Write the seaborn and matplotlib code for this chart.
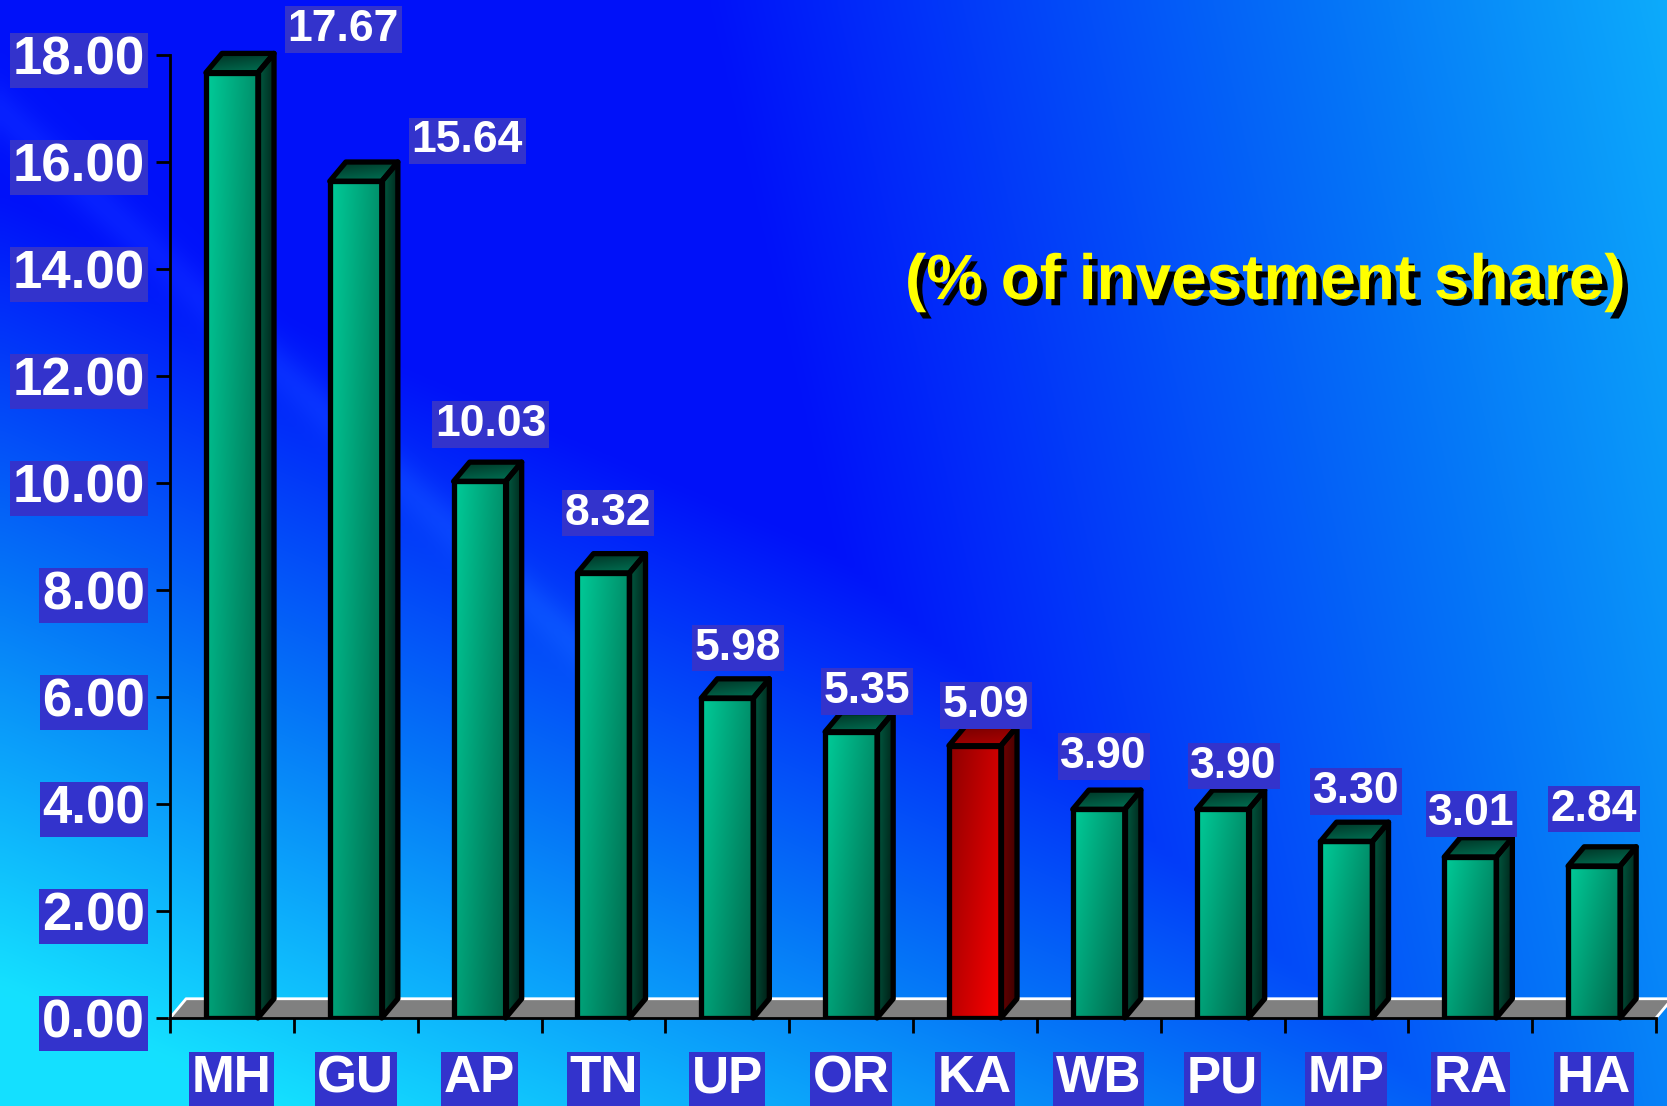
import numpy as np
import matplotlib
matplotlib.use('Agg')
import matplotlib.pyplot as plt
import matplotlib.patheffects as pe
from matplotlib.patches import Polygon
import seaborn as sns

# Data
states = ['MH', 'GU', 'AP', 'TN', 'UP', 'OR', 'KA', 'WB', 'PU', 'MP', 'RA', 'HA']
shares = [17.67, 15.64, 10.03, 8.32, 5.98, 5.35, 5.09, 3.90, 3.90, 3.30, 3.01, 2.84]
highlight = 'KA'
yticks = np.arange(0, 20, 2)
title = '(% of investment share)'

# where the value boxes sit relative to the bar tops (category shift, points up)
label_dx = [0.90, 0.90, 0.09, 0.04, 0.09, 0.13, 0.09, 0.04, 0.09, 0.08, 0.01, 0.0]
label_dy = [31, 29, 41, 43, 36, 29, 29, 38, 31, 36, 31, 41]

# fake 3d depth (data units)
DX, DY = 0.13, 0.36
BOX = '#3333CC'
LW = 3.8

sns.set_style('ticks')
plt.rcParams['font.family'] = ['Liberation Sans', 'DejaVu Sans']
plt.rcParams['font.weight'] = 'bold'

fig = plt.figure(figsize=(16.67, 11.06), dpi=100)

# Background gradient
h, w = 220, 330
vv, uu = np.mgrid[0:1:h * 1j, 0:1:w * 1j]
a = (vv - 0.5) * 1.4 + (0.5 - uu) * 0.9
b = (uu - 0.58) * 1.3 + 0.2 * (1 - vv)
L = np.clip(np.maximum(a, b), 0, 1)
deep = np.array([0.0, 0.07, 0.98])
mid = np.array([0.02, 0.47, 0.97])
cyan = np.array([0.08, 0.88, 1.0])
t1 = np.clip(L / 0.5, 0, 1)[..., None]
t2 = np.clip((L - 0.5) / 0.5, 0, 1)[..., None]
bg_img = np.where(L[..., None] < 0.5, deep * (1 - t1) + mid * t1, mid * (1 - t2) + cyan * t2)
streak = 0.10 * np.exp(-((vv - 0.10 - 1.4 * uu) / 0.025) ** 2) * (uu < 0.35)
bg_img = np.clip(bg_img + streak[..., None] * np.array([0.3, 0.6, 0.2]), 0, 1)
bg = fig.add_axes([0, 0, 1, 1], zorder=-1)
bg.imshow(bg_img, aspect='auto', extent=(0, 1, 0, 1), interpolation='bicubic')
bg.axis('off')

ax = fig.add_axes([170 / 1667, 1 - 1018 / 1106, (1656 - 170) / 1667, (1018 - 55) / 1106])
ax.set_facecolor('none')

sns.barplot(x=states, y=shares, color='#00a078', saturation=1, width=0.42,
            edgecolor='black', linewidth=LW, ax=ax)
bars = list(ax.patches)
n = len(states)


def shade(patch, c0, c1, ext, ang):
    m = 64
    g = np.linspace(0, 1, m)
    gu, gv = np.meshgrid(g, g)
    t = ang[0] * gu + ang[1] * gv
    t = ((t - t.min()) / (t.max() - t.min()))[..., None]
    img = (1 - t) * np.array(c0) + t * np.array(c1)
    im = ax.imshow(img, extent=ext, origin='upper', aspect='auto',
                   interpolation='bilinear', zorder=3)
    im.set_clip_path(patch)
    im.set_clip_box(None)


green = dict(front=((0, 0.80, 0.60), (0, 0.40, 0.29)),
             side=((0, 0.36, 0.26), (0, 0.10, 0.07)),
             top=((0, 0.18, 0.13), (0, 0.46, 0.34)))
red = dict(front=((0.55, 0, 0), (1.0, 0, 0)),
           side=((0.45, 0, 0), (0.22, 0, 0)),
           top=((0.45, 0, 0), (0.70, 0, 0)))

for st, p in zip(states, bars):
    pal = red if st == highlight else green
    x0, wd, ht = p.get_x(), p.get_width(), p.get_height()
    p.set_facecolor('none')
    p.set_zorder(4)
    p.set_joinstyle('round')
    shade(p, *pal['front'], (x0, x0 + wd, 0, ht), (0.6, 0.4))
    side = Polygon([(x0 + wd, 0), (x0 + wd + DX, DY), (x0 + wd + DX, ht + DY), (x0 + wd, ht)],
                   closed=True, facecolor='none', edgecolor='black', lw=LW,
                   joinstyle='round', zorder=4, clip_on=False)
    ax.add_patch(side)
    shade(side, *pal['side'], (x0 + wd, x0 + wd + DX, 0, ht + DY), (1.0, 0.3))
    top = Polygon([(x0, ht), (x0 + DX, ht + DY), (x0 + wd + DX, ht + DY), (x0 + wd, ht)],
                  closed=True, facecolor='none', edgecolor='black', lw=LW,
                  joinstyle='round', zorder=4, clip_on=False)
    ax.add_patch(top)
    shade(top, *pal['top'], (x0, x0 + wd + DX, ht, ht + DY), (0.3, 0.7))

# floor
floor = Polygon([(-0.5, 0), (-0.5 + DX, DY), (n - 0.5 + DX, DY), (n - 0.5, 0)],
                closed=True, facecolor='#808080', edgecolor='none', zorder=1.5, clip_on=False)
ax.add_patch(floor)
ax.plot([-0.5, -0.5 + DX, n - 0.5 + DX, n - 0.5], [0, DY, DY, 0],
        color='white', lw=2, zorder=1.6, clip_on=False)

# value labels
for i, v in enumerate(shares):
    ax.annotate(f'{v:.2f}', xy=(i + label_dx[i], v), xytext=(0, label_dy[i]),
                textcoords='offset points', ha='center', va='center',
                fontsize=32, color='white', fontweight='bold', zorder=6,
                annotation_clip=False,
                bbox=dict(facecolor=BOX, edgecolor='none', pad=2))

ax.set_xlim(-0.5, n - 0.5)
ax.set_ylim(0, 18)
ax.set_yticks(yticks)
ax.set_yticklabels([f'{t:.2f}' for t in yticks])
ax.set_xticks(range(n))
ax.set_xticklabels(states)
ax.set_xticks(np.arange(-0.5, n, 1), minor=True)
ax.tick_params(axis='y', direction='out', length=10, width=2, pad=8,
               labelsize=38, labelcolor='white', color='black')
ax.tick_params(axis='x', which='major', length=0, pad=26, labelsize=37, labelcolor='white')
ax.tick_params(axis='x', which='minor', direction='out', length=11, width=2, color='black')
for lbl in ax.get_xticklabels() + ax.get_yticklabels():
    lbl.set_fontweight('bold')
    lbl.set_bbox(dict(facecolor=BOX, edgecolor='none', pad=2))
for s in ['top', 'right']:
    ax.spines[s].set_visible(False)
for s in ['left', 'bottom']:
    ax.spines[s].set_color('black')
    ax.spines[s].set_linewidth(2)
ax.set_xlabel('')
ax.set_ylabel('')

fig.text(0.759, 0.745, title, fontsize=46, color='#FFFF00', fontweight='bold',
         ha='center', va='center',
         path_effects=[pe.SimplePatchShadow(offset=(4, -4.5), shadow_rgbFace='black', alpha=1.0),
                       pe.Normal()])

fig.savefig('out.png', dpi=100)
